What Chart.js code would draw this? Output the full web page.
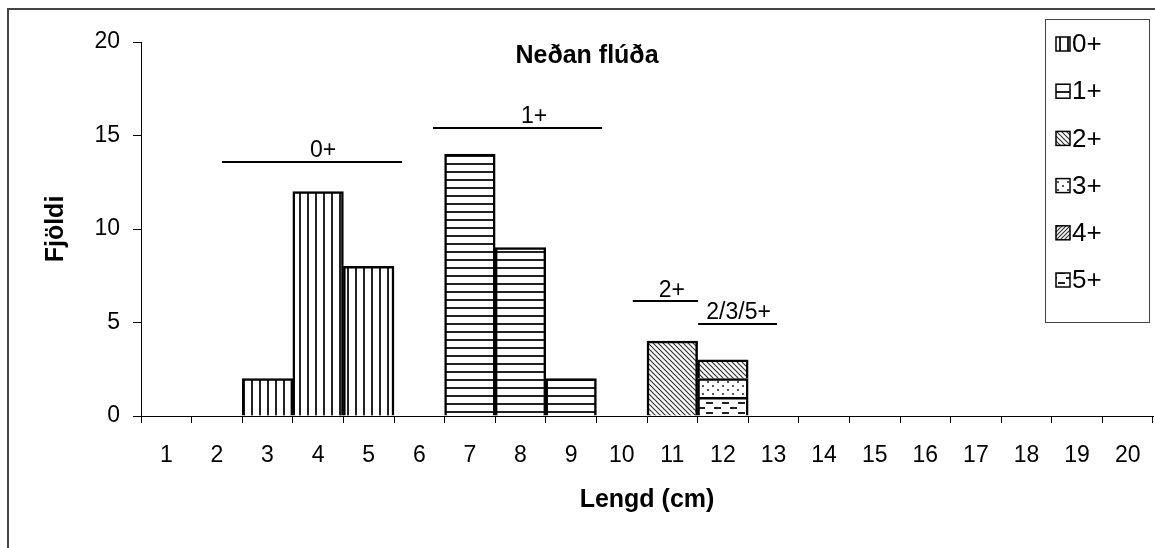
<!DOCTYPE html>
<html>
<head>
<meta charset="utf-8">
<script src="https://cdn.jsdelivr.net/npm/chart.js@4"></script>
<style>
    body { margin: 0; background: #fff; }
    #wrap { width: 1155px; height: 548px; }
</style>
</head>
<body>
<div id="wrap"><canvas id="chart" width="1155" height="548"></canvas></div>
<script>
// Lengd (cm) classes on the x axis
const lengths = ['1', '2', '3', '4', '5', '6', '7', '8', '9', '10',
    '11', '12', '13', '14', '15', '16', '17', '18', '19', '20'];
const ageClasses = ['0+', '1+', '2+', '3+', '4+', '5+'];

// Fjöldi per length class, one array per age class (null = no fish)
const age0 = [null, null, 2, 12, 8, null, null, null, null, null,
    null, null, null, null, null, null, null, null, null, null];
const age1 = [null, null, null, null, null, null, 14, 9, 2, null,
    null, null, null, null, null, null, null, null, null, null];
const age2 = [null, null, null, null, null, null, null, null, null, null,
    4, 1, null, null, null, null, null, null, null, null];
const age3 = [null, null, null, null, null, null, null, null, null, null,
    null, 1, null, null, null, null, null, null, null, null];
const age4 = [null, null, null, null, null, null, null, null, null, null,
    null, null, null, null, null, null, null, null, null, null];
const age5 = [null, null, null, null, null, null, null, null, null, null,
    null, 1, null, null, null, null, null, null, null, null];

// Brackets drawn over the age groups (x in cm, y in Fjöldi)
const bracketText = ['0+', '1+', '2+', '2/3/5+'];
const bracketStart = [2.1, 6.27, 10.22, 11.51];
const bracketEnd = [5.66, 9.61, 11.51, 13.07];
const bracketLevel = [13.6, 15.4, 6.15, 4.9];
const bracketTextAt = [4.1, 8.27, 10.99, 12.31];
const bracketTextLevel = [14.2, 16.0, 6.7, 5.5];

const FONT = "'Liberation Sans', Arial, sans-serif";

function makePattern(kind) {
    const c = document.createElement('canvas');
    const g = c.getContext('2d');
    const size = { vert: [8, 8], horiz: [8, 8], back: [5, 5], dots: [10, 8], fwd: [4, 4], dash: [16, 10] }[kind];
    c.width = size[0];
    c.height = size[1];
    g.fillStyle = '#fff';
    g.fillRect(0, 0, c.width, c.height);
    g.fillStyle = '#222';
    g.strokeStyle = '#333';
    if (kind === 'vert') {
        g.fillRect(3, 0, 2, 8);
    } else if (kind === 'horiz') {
        g.fillRect(0, 3, 8, 2);
    } else if (kind === 'back') {
        g.lineWidth = 1.2;
        g.beginPath();
        g.moveTo(-1, -1); g.lineTo(6, 6);
        g.moveTo(-1, 4); g.lineTo(1, 6);
        g.moveTo(4, -1); g.lineTo(6, 1);
        g.stroke();
    } else if (kind === 'fwd') {
        g.lineWidth = 1.2;
        g.beginPath();
        g.moveTo(-1, 5); g.lineTo(5, -1);
        g.moveTo(-1, 1); g.lineTo(1, -1);
        g.moveTo(3, 5); g.lineTo(5, 3);
        g.stroke();
    } else if (kind === 'dots') {
        g.fillStyle = '#555';
        g.fillRect(2, 1, 2, 2);
        g.fillRect(7, 5, 2, 2);
    } else if (kind === 'dash') {
        g.fillRect(2, 2, 7, 2);
        g.fillRect(10, 7, 6, 2);
        g.fillRect(0, 7, 1, 2);
    }
    const ctx = document.getElementById('chart').getContext('2d');
    return ctx.createPattern(c, 'repeat');
}

const patterns = ['vert', 'horiz', 'back', 'dots', 'fwd', 'dash'].map(makePattern);
const series = [age0, age1, age2, age3, age4, age5];

// 5+ goes in first so it sits at the bottom of the stack
const datasets = series.map((data, i) => ({
    label: ageClasses[i],
    data: data,
    backgroundColor: patterns[i],
    borderColor: '#000',
    borderWidth: 2.5,
    borderSkipped: 'start',
    barPercentage: 1,
    categoryPercentage: 1
})).reverse();

const framePlugin = {
    id: 'frame',
    beforeDraw(chart) {
        const ctx = chart.ctx;
        ctx.save();
        ctx.fillStyle = '#fff';
        ctx.fillRect(0, 0, chart.width, chart.height);
        ctx.strokeStyle = '#444';
        ctx.lineWidth = 2;
        ctx.beginPath();
        ctx.moveTo(8, chart.height);
        ctx.lineTo(8, 9);
        ctx.lineTo(chart.width, 9);
        ctx.stroke();
        ctx.restore();
    }
};

const bracketPlugin = {
    id: 'brackets',
    afterDatasetsDraw(chart) {
        const ctx = chart.ctx;
        const x = chart.scales.x;
        const y = chart.scales.y;
        ctx.save();
        ctx.strokeStyle = '#000';
        ctx.lineWidth = 2;
        ctx.fillStyle = '#000';
        ctx.font = '23px ' + FONT;
        ctx.textAlign = 'center';
        ctx.textBaseline = 'middle';
        bracketText.forEach((txt, i) => {
            const py = Math.round(y.getPixelForValue(bracketLevel[i]));
            ctx.beginPath();
            ctx.moveTo(x.getPixelForValue(bracketStart[i] - 1), py);
            ctx.lineTo(x.getPixelForValue(bracketEnd[i] - 1), py);
            ctx.stroke();
            ctx.fillText(txt, x.getPixelForValue(bracketTextAt[i] - 1), y.getPixelForValue(bracketTextLevel[i]));
        });
        // chart title
        ctx.font = 'bold 25px ' + FONT;
        ctx.fillText('Neðan flúða', 587, 56);
        ctx.restore();
    }
};

const legendPlugin = {
    id: 'boxLegend',
    afterDraw(chart) {
        const ctx = chart.ctx;
        ctx.save();
        ctx.fillStyle = '#fff';
        ctx.fillRect(1045, 19, 104, 303);
        ctx.strokeStyle = '#444';
        ctx.lineWidth = 1;
        ctx.strokeRect(1045.5, 19.5, 104, 303);
        ctx.font = '26px ' + FONT;
        ctx.textBaseline = 'middle';
        ctx.textAlign = 'left';
        ageClasses.forEach((name, i) => {
            const cy = 44 + i * 47.2;
            ctx.fillStyle = patterns[i];
            ctx.fillRect(1056, cy - 7, 14, 14);
            ctx.strokeStyle = '#000';
            ctx.lineWidth = 1.5;
            ctx.strokeRect(1056, cy - 7, 14, 14);
            ctx.fillStyle = '#000';
            ctx.fillText(name, 1072, cy + 1);
        });
        ctx.restore();
    }
};

new Chart(document.getElementById('chart'), {
    type: 'bar',
    data: { labels: lengths, datasets: datasets },
    options: {
        responsive: false,
        animation: false,
        layout: { padding: { top: 42, right: 2, left: 0, bottom: 0 } },
        plugins: {
            legend: { display: false },
            tooltip: { enabled: false }
        },
        scales: {
            x: {
                stacked: true,
                afterFit: scale => {
                    scale.height = 132;
                    scale.paddingLeft = 0;
                    scale.paddingRight = 0;
                },
                grid: { offset: true, drawOnChartArea: false, tickLength: 7, color: '#000' },
                border: { color: '#000', width: 1 },
                ticks: { color: '#000', font: { family: FONT, size: 23 }, padding: 19, maxRotation: 0 },
                title: {
                    display: true,
                    text: 'Lengd (cm)',
                    color: '#000',
                    font: { family: FONT, size: 25, weight: 'bold' },
                    padding: { bottom: 33 }
                }
            },
            y: {
                stacked: true,
                min: 0,
                max: 20,
                afterFit: scale => { scale.width = 141; },
                grid: { drawOnChartArea: false, tickLength: 8, color: '#000' },
                border: { color: '#000', width: 1 },
                ticks: { stepSize: 5, color: '#000', font: { family: FONT, size: 23 }, padding: 13 },
                title: {
                    display: true,
                    text: 'Fjöldi',
                    color: '#000',
                    font: { family: FONT, size: 25, weight: 'bold' },
                    padding: { top: 41 }
                }
            }
        }
    },
    plugins: [framePlugin, bracketPlugin, legendPlugin]
});
</script>
</body>
</html>
